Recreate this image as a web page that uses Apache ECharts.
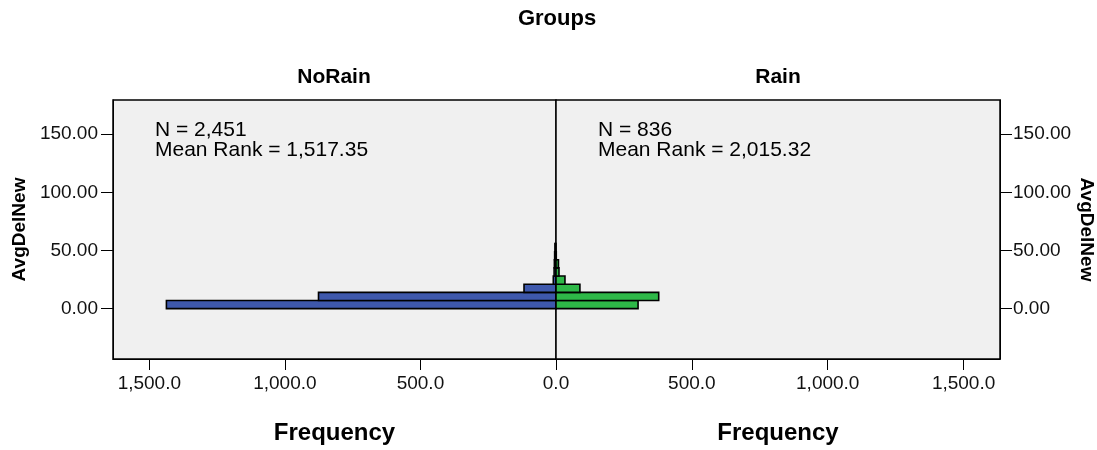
<!DOCTYPE html>
<html>
<head>
<meta charset="utf-8">
<script src="https://cdn.jsdelivr.net/npm/echarts@6/dist/echarts.min.js"></script>
<style>
  html, body { margin: 0; padding: 0; background: #fff; }
  #main { width: 1097px; height: 450px; }
</style>
</head>
<body>
<div id="main"></div>
<script>
// AvgDelNew bins (lower / upper edge)
var binLow = [0, 7, 14, 21, 28, 35, 42, 49];
var binHigh = [7, 14, 21, 28, 35, 42, 49, 56];
// frequencies per bin for each group
var noRainFreq = [1437, 876, 118, 10, 7, 6, 5, 4];
var rainFreq = [302, 378, 88, 33, 11, 9, 1, 0];
// tick values
var freqTicks = [0, 500, 1000, 1500];
var delTicks = [0, 50, 100, 150];
// group labels and stats
var groups = ['NoRain', 'Rain'];
var groupN = ['2,451', '836'];
var meanRank = ['1,517.35', '2,015.32'];

var FONT = '"Liberation Sans", Arial, sans-serif';
var myChart = echarts.init(document.getElementById('main'));

function toData(freq) {
  return binLow.map(function (lo, i) { return [lo, binHigh[i], freq[i]]; });
}

function barRenderer(color) {
  return function (params, api) {
    if (!api.value(2)) return null;
    var a = api.coord([0, api.value(0)]);
    var b = api.coord([api.value(2), api.value(1)]);
    return {
      type: 'rect',
      shape: {
        x: Math.min(a[0], b[0]),
        y: Math.min(a[1], b[1]),
        width: Math.abs(b[0] - a[0]),
        height: Math.abs(b[1] - a[1])
      },
      style: { fill: color, stroke: '#000', lineWidth: 1.6 }
    };
  };
}

function fmtFreq(v) {
  return v.toLocaleString('en-US', { minimumFractionDigits: 1, maximumFractionDigits: 1 });
}

function xAxisFor(idx) {
  return {
    gridIndex: idx,
    type: 'value',
    inverse: idx === 0,
    min: 0,
    max: 1634,
    name: 'Frequency',
    nameLocation: 'middle',
    nameGap: 62,
    nameTextStyle: { fontFamily: FONT, fontSize: 24, fontWeight: 'bold', color: '#000' },
    axisLine: { show: true, onZero: false, lineStyle: { color: '#000', width: 1 } },
    axisTick: { show: true, length: 11, customValues: freqTicks, lineStyle: { color: '#000' } },
    axisLabel: {
      customValues: idx === 0 ? freqTicks.slice(1) : freqTicks,
      formatter: fmtFreq,
      margin: 15,
      fontFamily: FONT, fontSize: 19, color: '#111'
    },
    splitLine: { show: false }
  };
}

function yAxisFor(idx) {
  return {
    gridIndex: idx,
    type: 'value',
    position: idx === 0 ? 'left' : 'right',
    min: -43.3,
    max: 179.3,
    name: 'AvgDelNew',
    nameLocation: 'middle',
    nameGap: idx === 0 ? 84 : 77,
    nameRotate: idx === 0 ? 90 : -90,
    nameTextStyle: { fontFamily: FONT, fontSize: 19, fontWeight: 'bold', color: '#000' },
    axisLine: { show: true, onZero: false, lineStyle: { color: '#000', width: 1 } },
    axisTick: { show: true, length: 12, customValues: delTicks, lineStyle: { color: '#000' } },
    axisLabel: {
      customValues: delTicks,
      formatter: function (v) { return v.toFixed(2); },
      margin: idx === 0 ? 15 : 13,
      fontFamily: FONT, fontSize: 19, color: '#111'
    },
    splitLine: { show: false }
  };
}

function textEl(txt, x, y, size, bold, align) {
  return {
    type: 'text', x: x, y: y,
    style: {
      text: txt,
      font: (bold ? 'bold ' : '') + size + 'px ' + FONT,
      fill: '#000',
      align: align || 'center',
      verticalAlign: 'middle'
    }
  };
}

var option = {
  backgroundColor: '#fff',
  animation: false,
  grid: [
    { left: 113, top: 100, width: 443, height: 261, show: true, backgroundColor: '#f0f0f0', borderColor: '#000', borderWidth: 1.5 },
    { left: 556, top: 100, width: 445, height: 261, show: true, backgroundColor: '#f0f0f0', borderColor: '#000', borderWidth: 1.5 }
  ],
  xAxis: [xAxisFor(0), xAxisFor(1)],
  yAxis: [yAxisFor(0), yAxisFor(1)],
  graphic: [
    textEl('Groups', 557, 19, 22, true),
    textEl(groups[0], 334, 77, 21, true),
    textEl(groups[1], 778, 77, 21, true),
    textEl('N = ' + groupN[0], 155, 130, 21, false, 'left'),
    textEl('Mean Rank = ' + meanRank[0], 155, 150, 21, false, 'left'),
    textEl('N = ' + groupN[1], 598, 130, 21, false, 'left'),
    textEl('Mean Rank = ' + meanRank[1], 598, 150, 21, false, 'left')
  ],
  series: [
    {
      name: groups[0],
      type: 'custom',
      xAxisIndex: 0, yAxisIndex: 0,
      renderItem: barRenderer('#3e58ac'),
      encode: { x: 2, y: [0, 1] },
      data: toData(noRainFreq)
    },
    {
      name: groups[1],
      type: 'custom',
      xAxisIndex: 1, yAxisIndex: 1,
      renderItem: barRenderer('#2eb848'),
      encode: { x: 2, y: [0, 1] },
      data: toData(rainFreq)
    }
  ]
};

myChart.setOption(option);
</script>
</body>
</html>
